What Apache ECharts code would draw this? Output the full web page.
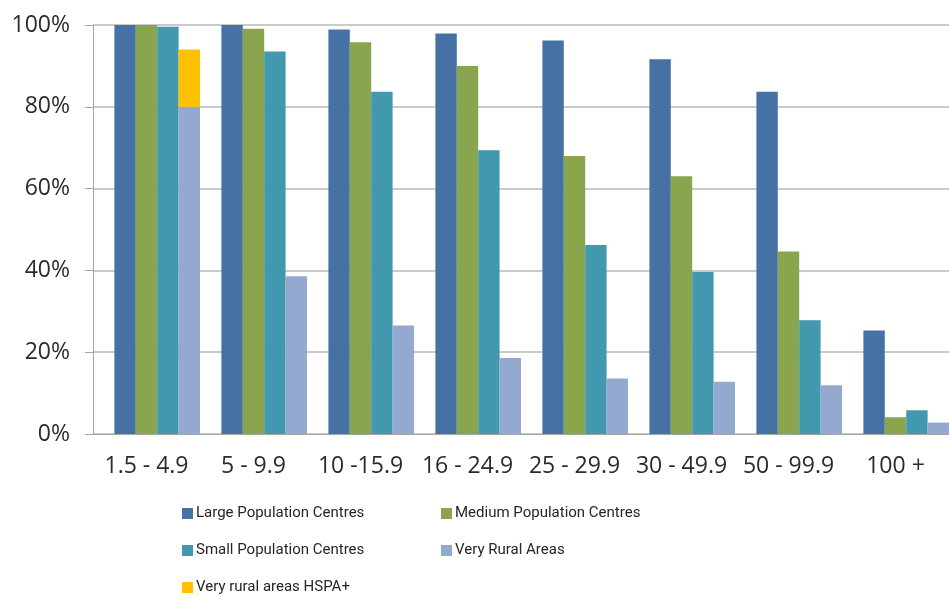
<!DOCTYPE html>
<html>
<head>
<meta charset="utf-8">
<script src="https://cdn.jsdelivr.net/npm/echarts@6/dist/echarts.min.js"></script>
<style>
  html, body { margin: 0; padding: 0; background: #fff; }
  #chart { width: 949px; height: 597px; }
</style>
</head>
<body>
<div id="chart"></div>
<script>
// Speed bands (Mbps) on the category axis
const categories = ['1.5 - 4.9', '5 - 9.9', '10 -15.9', '16 - 24.9', '25 - 29.9', '30 - 49.9', '50 - 99.9', '100 +'];

// Share of premises covered, in percent
const largeCentres  = [100, 100, 98.9, 97.9, 96.2, 91.6, 83.7, 25.3];
const mediumCentres = [100, 99.1, 95.8, 90.0, 68.0, 63.0, 44.6, 4.1];
const smallCentres  = [99.6, 93.5, 83.7, 69.4, 46.2, 39.6, 27.8, 5.8];
const veryRural     = [80, 38.6, 26.5, 18.6, 13.6, 12.8, 11.9, 2.8];
// Extra coverage added on top of very rural areas by HSPA+
const ruralHspa     = [14, null, null, null, null, null, null, null];

const yTicks = [0, 20, 40, 60, 80, 100];

const seriesNames = ['Large Population Centres', 'Medium Population Centres',
  'Small Population Centres', 'Very Rural Areas', 'Very rural areas HSPA+'];
const colors = ['#4571a5', '#89a54e', '#4198af', '#93a9cf', '#ffc000'];

const chart = echarts.init(document.getElementById('chart'), null, { renderer: 'canvas' });

const textFont = '"Open Sans", "Noto Sans", sans-serif';
const legendFont = 'Roboto, sans-serif';

// one legend block per entry, laid out in two columns
const legendSlots = [
  { left: 177, top: 501 },
  { left: 436, top: 501 },
  { left: 177, top: 538 },
  { left: 436, top: 538 },
  { left: 177, top: 575 }
];
const legends = seriesNames.map((n, i) => ({
  data: [n],
  left: legendSlots[i].left,
  top: legendSlots[i].top,
  icon: 'rect',
  itemWidth: 11,
  itemHeight: 11,
  itemGap: 0,
  selectedMode: false,
  textStyle: { fontFamily: legendFont, fontSize: 15, color: '#262626', padding: [0, 0, 0, -2] }
}));

chart.setOption({
  animation: false,
  backgroundColor: '#ffffff',
  grid: { left: 93, right: -10, top: 25, bottom: 163, containLabel: false },
  legend: legends,
  xAxis: {
    type: 'category',
    data: categories,
    axisLine: { show: true, lineStyle: { color: '#a6a6a6', width: 1 } },
    axisTick: { show: false },
    axisLabel: { color: '#2b2b2b', fontFamily: textFont, fontSize: 23, margin: 21, interval: 0 }
  },
  yAxis: {
    type: 'value',
    min: yTicks[0],
    max: yTicks[yTicks.length - 1],
    interval: 20,
    axisLine: { show: true, lineStyle: { color: '#a6a6a6', width: 1 } },
    axisTick: { show: true, length: 8, lineStyle: { color: '#a6a6a6' } },
    splitLine: { show: true, lineStyle: { color: '#b8b8b8', width: 1.5 } },
    axisLabel: { formatter: '{value}%', color: '#2b2b2b', fontFamily: textFont, fontSize: 23, margin: 23 }
  },
  series: [
    // empty leading slot in each cluster
    { type: 'bar', data: categories.map(() => null), barGap: '0%', barCategoryGap: '0%', silent: true },
    { name: seriesNames[0], type: 'bar', data: largeCentres, itemStyle: { color: colors[0] }, barGap: '0%', barCategoryGap: '0%' },
    { name: seriesNames[1], type: 'bar', data: mediumCentres, itemStyle: { color: colors[1] }, barGap: '0%', barCategoryGap: '0%' },
    { name: seriesNames[2], type: 'bar', data: smallCentres, itemStyle: { color: colors[2] }, barGap: '0%', barCategoryGap: '0%' },
    { name: seriesNames[3], type: 'bar', stack: 'rural', data: veryRural, itemStyle: { color: colors[3] }, barGap: '0%', barCategoryGap: '0%' },
    { name: seriesNames[4], type: 'bar', stack: 'rural', data: ruralHspa, itemStyle: { color: colors[4] }, barGap: '0%', barCategoryGap: '0%' }
  ]
});
</script>
</body>
</html>
